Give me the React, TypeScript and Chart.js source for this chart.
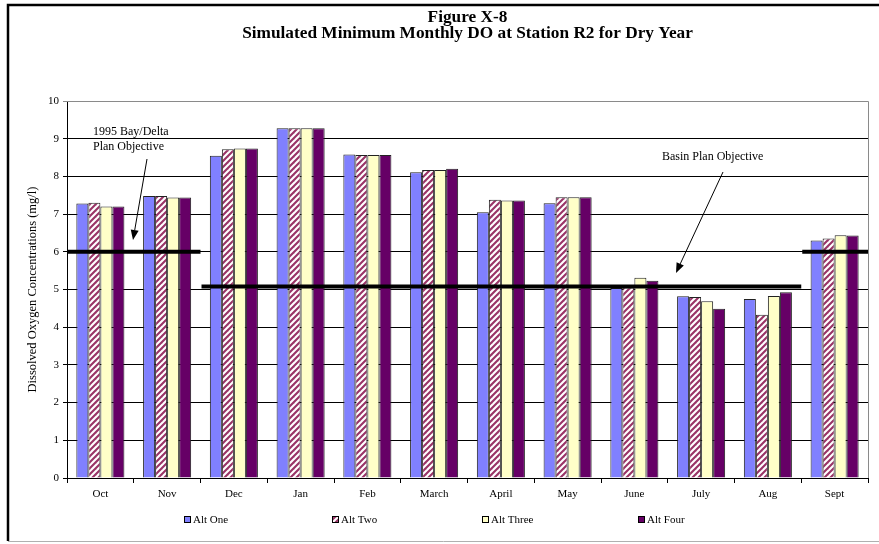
import { useEffect, useRef } from "react";
import { Chart, registerables } from "chart.js";

Chart.register(...registerables);

// Months of the dry water year
const months = ["Oct", "Nov", "Dec", "Jan", "Feb", "March", "April", "May", "June", "July", "Aug", "Sept"];

// Simulated minimum monthly DO (mg/l) for each alternative
const altOne = [7.28, 7.48, 8.55, 9.28, 8.58, 8.11, 7.05, 7.29, 5.04, 4.82, 4.75, 6.3];
const altTwo = [7.3, 7.48, 8.72, 9.28, 8.57, 8.17, 7.38, 7.45, 5.05, 4.8, 4.33, 6.35];
const altThree = [7.2, 7.44, 8.74, 9.28, 8.57, 8.17, 7.36, 7.45, 5.31, 4.69, 4.83, 6.44];
const altFour = [7.2, 7.44, 8.74, 9.28, 8.57, 8.2, 7.36, 7.45, 5.23, 4.49, 4.93, 6.43];

const seriesNames = ["Alt One", "Alt Two", "Alt Three", "Alt Four"];

// Objective levels (mg/l) and the month spans they apply to, as [first month, last month]
const bayDeltaObjective = 6;
const bayDeltaSpans: [string, string][] = [["Oct", "Nov"], ["Sept", "Sept"]];
const basinObjective = 5.08;
const basinSpans: [string, string][] = [["Dec", "Aug"]];

const yTicks = [0, 1, 2, 3, 4, 5, 6, 7, 8, 9, 10];

const SERIF = "'Liberation Serif', 'Times New Roman', serif";

function makeStripes(): CanvasPattern | string {
  const c = document.createElement("canvas");
  const s = 6;
  c.width = s;
  c.height = s;
  const g = c.getContext("2d");
  if (!g) return "#993366";
  g.fillStyle = "#ffffff";
  g.fillRect(0, 0, s, s);
  g.strokeStyle = "#993366";
  g.lineWidth = 2.1;
  for (const o of [-s, 0, s]) {
    g.beginPath();
    g.moveTo(o - 1, s + 1);
    g.lineTo(o + s + 1, -1);
    g.stroke();
  }
  return g.createPattern(c, "repeat") ?? "#993366";
}

function arrow(ctx: CanvasRenderingContext2D, x1: number, y1: number, x2: number, y2: number) {
  const ang = Math.atan2(y2 - y1, x2 - x1);
  const len = 10;
  const half = 4;
  const bx = x2 - len * Math.cos(ang);
  const by = y2 - len * Math.sin(ang);
  ctx.beginPath();
  ctx.moveTo(x1, y1);
  ctx.lineTo(bx, by);
  ctx.lineWidth = 1;
  ctx.strokeStyle = "#000";
  ctx.stroke();
  ctx.beginPath();
  ctx.moveTo(x2, y2);
  ctx.lineTo(bx + half * Math.sin(ang), by - half * Math.cos(ang));
  ctx.lineTo(bx - half * Math.sin(ang), by + half * Math.cos(ang));
  ctx.closePath();
  ctx.fillStyle = "#000";
  ctx.fill();
}

export default function App() {
  const canvasRef = useRef<HTMLCanvasElement | null>(null);

  useEffect(() => {
    const canvas = canvasRef.current;
    if (!canvas) return;
    const stripes = makeStripes();
    const fills: (string | CanvasPattern)[] = ["#8080FF", stripes, "#FFFFC8", "#660066"];
    const values = [altOne, altTwo, altThree, altFour];

    // Objective lines, plot frame, titles, legend and call-outs
    const decorations = {
      id: "decorations",
      afterDatasetsDraw(chart: any) {
        const { ctx, chartArea, scales } = chart;
        const y = scales.y;
        const step = (chartArea.right - chartArea.left) / months.length;
        const edge = (m: string, end: boolean) => chartArea.left + (months.indexOf(m) + (end ? 1 : 0)) * step;
        ctx.save();
        // plot frame on top and right
        ctx.strokeStyle = "#8a8a8a";
        ctx.lineWidth = 1;
        ctx.beginPath();
        ctx.moveTo(chartArea.left, y.getPixelForValue(10) + 0.5);
        ctx.lineTo(chartArea.right + 0.5, y.getPixelForValue(10) + 0.5);
        ctx.lineTo(chartArea.right + 0.5, chartArea.bottom);
        ctx.stroke();
        ctx.lineCap = "butt";
        ctx.strokeStyle = "#000";
        ctx.lineWidth = 4;
        const drawSpans = (level: number, spans: [string, string][]) => {
          const py = y.getPixelForValue(level);
          for (const [a, b] of spans) {
            ctx.beginPath();
            ctx.moveTo(edge(a, false) + 1, py);
            ctx.lineTo(edge(b, true), py);
            ctx.stroke();
          }
        };
        drawSpans(bayDeltaObjective, bayDeltaSpans);
        drawSpans(basinObjective, basinSpans);
        ctx.restore();
      },
      afterDraw(chart: any) {
        const { ctx, chartArea, width, height } = chart;
        ctx.save();
        // outer frame
        ctx.strokeStyle = "#000";
        ctx.lineWidth = 2.5;
        ctx.beginPath();
        ctx.moveTo(8, height - 3);
        ctx.lineTo(8, 5);
        ctx.lineTo(width, 5);
        ctx.stroke();
        ctx.strokeStyle = "#b0b0b0";
        ctx.lineWidth = 1;
        ctx.beginPath();
        ctx.moveTo(8, height - 2.5);
        ctx.lineTo(width, height - 2.5);
        ctx.stroke();

        // title
        const cx = (chartArea.left + chartArea.right) / 2;
        ctx.fillStyle = "#000";
        ctx.textAlign = "center";
        ctx.textBaseline = "middle";
        ctx.font = `bold 17.3px ${SERIF}`;
        ctx.fillText("Figure X-8", cx, 18);
        ctx.fillText("Simulated Minimum Monthly DO at Station R2 for Dry Year", cx, 34);

        // call-outs
        ctx.font = `12px ${SERIF}`;
        ctx.textAlign = "left";
        ctx.fillText("1995 Bay/Delta", 93, 132);
        ctx.fillText("Plan Objective", 93, 147);
        arrow(ctx, 147, 159, 133, 240);
        ctx.fillText("Basin Plan Objective", 662, 157);
        arrow(ctx, 723, 172, 676, 273);

        // legend
        const legendX = [184, 332, 482, 638];
        const ly = 520;
        ctx.font = `11px ${SERIF}`;
        ctx.textAlign = "left";
        seriesNames.forEach((name, i) => {
          const bx = legendX[i];
          ctx.fillStyle = fills[i] as any;
          ctx.fillRect(bx, ly - 4, 7, 7);
          ctx.strokeStyle = "#000";
          ctx.lineWidth = 1;
          ctx.strokeRect(bx + 0.5, ly - 3.5, 6, 6);
          ctx.fillStyle = "#000";
          ctx.fillText(name, bx + 9, ly);
        });
        ctx.restore();
      },
    };

    const chart = new Chart(canvas, {
      type: "bar",
      data: {
        labels: months,
        datasets: seriesNames.map((name, i) => ({
          label: name,
          data: values[i],
          backgroundColor: fills[i] as any,
          borderColor: "#222",
          borderWidth: 1,
          barPercentage: 1,
          categoryPercentage: 0.72,
        })),
      },
      options: {
        responsive: false,
        animation: false,
        events: [],
        layout: { padding: { top: 101, right: 11, bottom: 36, left: 0 } },
        plugins: {
          legend: { display: false },
          title: { display: false },
          tooltip: { enabled: false },
        },
        scales: {
          x: {
            offset: true,
            grid: { drawOnChartArea: false, drawTicks: true, tickLength: 5, color: "#000", offset: true },
            border: { color: "#000", width: 1 },
            ticks: {
              color: "#000",
              font: { family: SERIF, size: 11 },
              padding: 5,
              maxRotation: 0,
              autoSkip: false,
            },
            afterFit: (s: any) => {
              s.height = 30;
            },
          },
          y: {
            min: 0,
            max: 10,
            afterBuildTicks: (s: any) => {
              s.ticks = yTicks.map((v) => ({ value: v }));
            },
            ticks: { color: "#000", font: { family: SERIF, size: 11 }, padding: 4 },
            grid: {
              color: (c: any) => (c.tick && c.tick.value === 10 ? "#8a8a8a" : "#000"),
              tickLength: 4,
              drawTicks: true,
            },
            border: { color: "#000", width: 1 },
            title: {
              display: true,
              text: "Dissolved Oxygen Concentrations (mg/l)",
              color: "#000",
              font: { family: SERIF, size: 12.5 },
              padding: { top: 25, bottom: 0 },
            },
            afterFit: (s: any) => {
              s.width = 67;
            },
          },
        },
      },
      plugins: [decorations],
    });
    return () => chart.destroy();
  }, []);

  return (
    <div style={{ position: "absolute", left: 0, top: 0, width: 879, height: 544, background: "#fff" }}>
      <canvas ref={canvasRef} width={879} height={544} style={{ display: "block" }} />
    </div>
  );
}
